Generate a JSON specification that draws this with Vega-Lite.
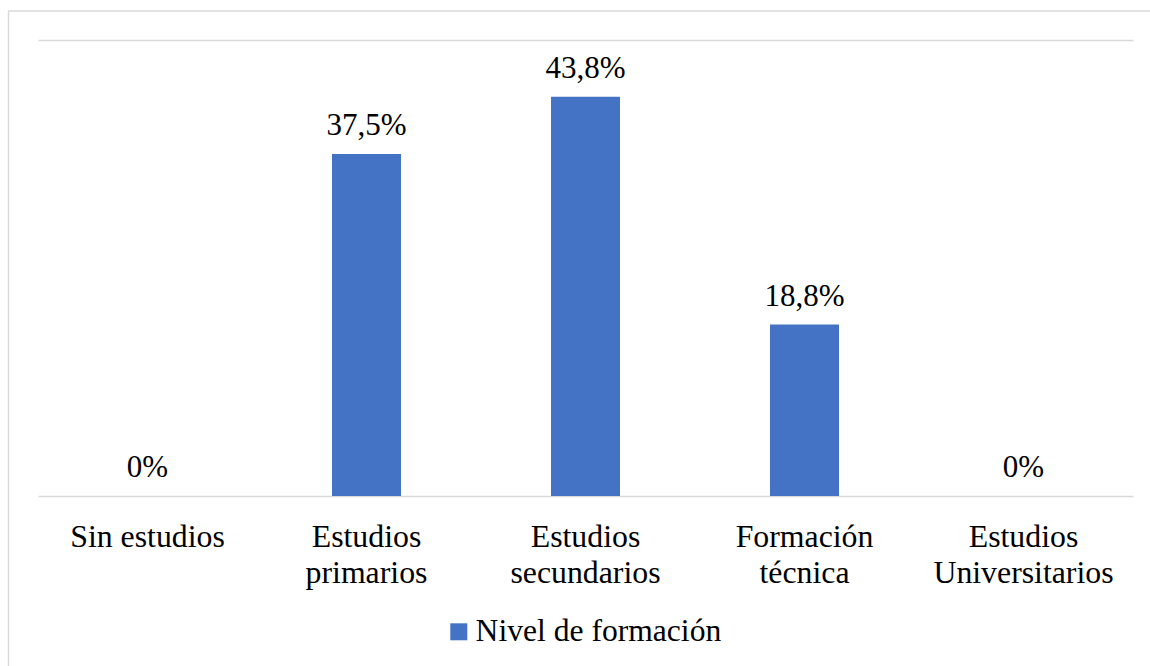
{
  "$schema": "https://vega.github.io/schema/vega-lite/v6.json",
  "width": 1142,
  "height": 655,
  "autosize": {"type": "none"},
  "padding": {"left": 8, "top": 11, "right": 0, "bottom": 0},
  "background": "white",
  "config": {
    "locale": {"number": {"decimal": ",", "thousands": ".", "grouping": [3], "currency": ["", " €"]}},
    "view": {"stroke": null},
    "font": "Times New Roman",
    "text": {"font": "Times New Roman"},
    "legend": {"labelFont": "Times New Roman"},
    "axis": {"labelFont": "Times New Roman"}
  },
  "layer": [
    {
      "data": {"values": [
        {"nivel": "Sin estudios", "porcentaje": 0, "serie": "Nivel de formación"},
        {"nivel": "Estudios primarios", "porcentaje": 0.375, "serie": "Nivel de formación"},
        {"nivel": "Estudios secundarios", "porcentaje": 0.438, "serie": "Nivel de formación"},
        {"nivel": "Formación técnica", "porcentaje": 0.188, "serie": "Nivel de formación"},
        {"nivel": "Estudios Universitarios", "porcentaje": 0, "serie": "Nivel de formación"}
      ]},
      "layer": [
        {
          "mark": {"type": "bar"},
          "encoding": {
            "x": {
              "field": "nivel", "type": "nominal", "sort": null,
              "scale": {"range": [30, 1125], "paddingInner": 0.685, "paddingOuter": 0.3425},
              "axis": {
                "title": null, "orient": "bottom", "offset": -170,
                "domain": false, "ticks": false, "tickSize": 0,
                "labelAngle": 0, "labelFontSize": 31.8,
                "labelColor": "#000000", "labelPadding": 25, "labelLineHeight": 36,
                "labelLimit": 0, "labelOverlap": false, "labelBound": false,
                "labelExpr": "datum.label == 'Sin estudios' ? datum.label : split(datum.label, ' ')"
              }
            },
            "y": {
              "field": "porcentaje", "type": "quantitative",
              "scale": {"domain": [-0.1865, 0.532], "nice": false, "zero": false},
              "axis": {
                "title": null, "values": [0, 0.5], "labels": false, "ticks": false,
                "domain": true, "domainColor": "#d9d9d9", "domainWidth": 1.5,
                "grid": true, "gridColor": "#d9d9d9", "gridWidth": 1.5
              }
            },
            "y2": {"datum": 0},
            "color": {
              "field": "serie", "type": "nominal",
              "scale": {"range": ["#4472C4"]},
              "legend": {
                "title": null, "orient": "none", "legendX": 435, "legendY": 605,
                "padding": 0, "symbolType": "square", "symbolSize": 289,
                "symbolStrokeWidth": 0, "symbolOpacity": 1, "labelOffset": 1,
                "labelFontSize": 31.6, "labelColor": "#000000",
                "labelLimit": 0
              }
            }
          }
        },
        {
          "mark": {"type": "text", "baseline": "alphabetic", "dy": -19, "fontSize": 31, "color": "#000000"},
          "encoding": {
            "x": {"field": "nivel", "type": "nominal", "sort": null},
            "y": {"field": "porcentaje", "type": "quantitative"},
            "text": {"field": "porcentaje", "type": "quantitative", "format": ".1~%"}
          }
        }
      ]
    },
    {
      "data": {"values": [{"borde": "superior"}]},
      "mark": {"type": "rule", "color": "#d9d9d9", "strokeWidth": 1.5},
      "encoding": {"y": {"datum": 0.532}}
    }
  ]
}
